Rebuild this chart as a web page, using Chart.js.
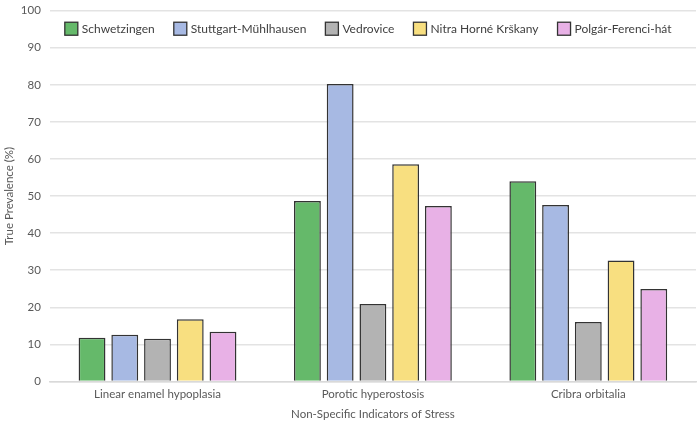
<!DOCTYPE html>
<html>
<head>
<meta charset="utf-8">
<script src="https://cdn.jsdelivr.net/npm/chart.js@4"></script>
<style>
  html, body { margin: 0; padding: 0; background: #fff; }
  #wrap { width: 700px; height: 424px; }
</style>
</head>
<body>
<div id="wrap"><canvas id="stressChart" width="700" height="424"></canvas></div>
<script>
const categories = ["Linear enamel hypoplasia", "Porotic hyperostosis", "Cribra orbitalia"];
const sites = ["Schwetzingen", "Stuttgart-Mühlhausen", "Vedrovice", "Nitra Horné Krškany", "Polgár-Ferenci-hát"];
const schwetzingen = [11.8, 48.7, 54.0];
const stuttgart = [12.6, 80.2, 47.6];
const vedrovice = [11.5, 20.9, 16.0];
const nitra = [16.8, 58.6, 32.6];
const polgar = [13.4, 47.3, 24.9];
const yTicks = [0, 10, 20, 30, 40, 50, 60, 70, 80, 90, 100];

const fills = ["#65b96a", "#a7b9e3", "#b3b3b3", "#f8df80", "#e8b1e6"];
const seriesValues = [schwetzingen, stuttgart, vedrovice, nitra, polgar];

// legend drawn as one row inside the plot, like the original
const inlineLegend = {
    id: "inlineLegend",
    afterDraw(chart) {
        const c = chart.ctx;
        const area = chart.chartArea;
        const y = area.top + 18;
        let x = area.left + 15;
        c.save();
        c.font = "12px Lato, 'Open Sans', sans-serif";
        c.textBaseline = "middle";
        chart.data.datasets.forEach(ds => {
            c.fillStyle = ds.backgroundColor;
            c.fillRect(x, y - 6.5, 13, 13);
            c.strokeStyle = "#333333";
            c.lineWidth = 1.3;
            c.strokeRect(x, y - 6.5, 13, 13);
            c.fillStyle = "#404040";
            c.fillText(ds.label, x + 17, y);
            x += 17 + c.measureText(ds.label).width + 19;
        });
        c.restore();
    }
};

const ctx = document.getElementById("stressChart").getContext("2d");
Chart.defaults.font.family = "Lato, 'Open Sans', sans-serif";
Chart.defaults.color = "#595959";

new Chart(ctx, {
    type: "bar",
    data: {
        labels: categories,
        datasets: sites.map((name, i) => ({
            label: name,
            data: seriesValues[i],
            backgroundColor: fills[i],
            borderColor: "#333333",
            borderWidth: 1.5,
            barPercentage: 0.82,
            categoryPercentage: 0.76
        }))
    },
    options: {
        responsive: false,
        animation: false,
        layout: { padding: { top: 0, right: 4, left: 2, bottom: 3 } },
        scales: {
            x: {
                grid: { display: false, drawTicks: false },
                border: { color: "#d9d9d9", width: 1.5 },
                ticks: { font: { size: 11.5 }, padding: 6 },
                title: { display: true, text: "Non-Specific Indicators of Stress", font: { size: 11.5 }, padding: { top: 0, bottom: 0 } }
            },
            y: {
                min: 0,
                max: 100,
                afterBuildTicks: axis => { axis.ticks = yTicks.map(v => ({ value: v })); },
                grid: { color: "#e3e3e3", lineWidth: 1.5, drawTicks: false },
                border: { display: false },
                ticks: { font: { size: 11.5, lineHeight: 0.3 }, padding: 9 },
                title: { display: true, text: "True Prevalence (%)", font: { size: 11.5 }, padding: { top: 0, bottom: -4 } }
            }
        },
        plugins: {
            legend: { display: false },
            tooltip: { enabled: false }
        }
    },
    plugins: [inlineLegend]
});
</script>
</body>
</html>
